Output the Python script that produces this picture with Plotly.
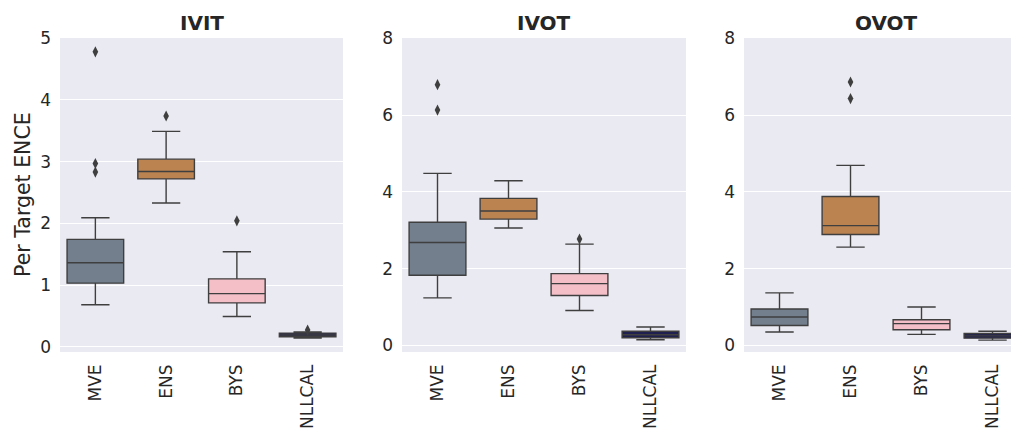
import plotly.graph_objects as go

methods = ["MVE", "ENS", "BYS", "NLLCAL"]
panels = ["IVIT", "IVOT", "OVOT"]
colors = ["#737f8c", "#bb8350", "#f5bfc8", "#202050"]

# IVIT
ivit_lo = [0.68, 2.33, 0.49, 0.14]
ivit_q1 = [1.03, 2.72, 0.71, 0.16]
ivit_med = [1.36, 2.84, 0.86, 0.19]
ivit_q3 = [1.74, 3.04, 1.10, 0.22]
ivit_hi = [2.09, 3.49, 1.54, 0.24]
ivit_out = [[4.78, 2.97, 2.83], [3.74], [2.04], [0.27]]

# IVOT
ivot_lo = [1.24, 3.06, 0.91, 0.15]
ivot_q1 = [1.83, 3.29, 1.30, 0.20]
ivot_med = [2.68, 3.50, 1.61, 0.28]
ivot_q3 = [3.21, 3.83, 1.87, 0.37]
ivot_hi = [4.48, 4.29, 2.64, 0.48]
ivot_out = [[6.79, 6.13], [], [2.77], []]

# OVOT
ovot_lo = [0.35, 2.56, 0.29, 0.14]
ovot_q1 = [0.52, 2.89, 0.41, 0.19]
ovot_med = [0.74, 3.12, 0.57, 0.25]
ovot_q3 = [0.95, 3.88, 0.67, 0.31]
ovot_hi = [1.37, 4.69, 1.00, 0.37]
ovot_out = [[], [6.86, 6.43], [], []]

data = [
    (ivit_lo, ivit_q1, ivit_med, ivit_q3, ivit_hi, ivit_out),
    (ivot_lo, ivot_q1, ivot_med, ivot_q3, ivot_hi, ivot_out),
    (ovot_lo, ovot_q1, ovot_med, ovot_q3, ovot_hi, ovot_out),
]

# page body has an 8px margin, so the figure is offset by 8px
OFF = 8
SW, SH = 1019, 429          # screen size
W, H = SW - OFF, SH - OFF   # figure size
line_col = "#3f3f3f"
text_col = "#262626"
font_family = "DejaVu Sans"


def fx(px):
    return (px - OFF) / W


def fy(py):
    return 1 - (py - OFF) / H


x_domains = [(fx(60), fx(343)), (fx(402), fx(686)), (fx(744), 1.0)]
y_dom = (fy(352), fy(38))
x_ranges = [[-0.5, 3.5], [-0.5, 3.5], [-0.5, 3.373]]
y_ranges = [[-0.086, 5.004], [-0.17, 8.006], [-0.17, 8.006]]
y_ticks = [[0, 1, 2, 3, 4, 5], [0, 2, 4, 6, 8], [0, 2, 4, 6, 8]]
title_cx = [201.5, 544, 886]

fig = go.Figure()

for p, (lo, q1, med, q3, hi, out) in enumerate(data):
    xa = "x" if p == 0 else f"x{p+1}"
    ya = "y" if p == 0 else f"y{p+1}"
    for i, m in enumerate(methods):
        fig.add_trace(go.Box(
            x=[m], lowerfence=[lo[i]], q1=[q1[i]], median=[med[i]],
            q3=[q3[i]], upperfence=[hi[i]], width=0.8,
            fillcolor=colors[i], line=dict(color=line_col, width=1.4),
            whiskerwidth=0.5, boxpoints=False, showlegend=False,
            xaxis=xa, yaxis=ya, hoverinfo="skip",
        ))
        if out[i]:
            fig.add_trace(go.Scatter(
                x=[m] * len(out[i]), y=out[i], mode="markers",
                marker=dict(symbol="diamond-tall", size=8, color=line_col),
                showlegend=False, xaxis=xa, yaxis=ya, hoverinfo="skip",
            ))

layout = dict(
    width=W, height=H,
    margin=dict(l=0, r=0, t=0, b=0, autoexpand=False),
    paper_bgcolor="white",
    plot_bgcolor="#eaeaf2",
    boxmode="overlay",
    font=dict(family=font_family, color=text_col),
)

for p in range(3):
    sx = "" if p == 0 else str(p + 1)
    layout[f"xaxis{sx}"] = dict(
        domain=list(x_domains[p]), anchor=f"y{sx}", type="category",
        categoryorder="array", categoryarray=methods,
        range=x_ranges[p], tickangle=-90, showgrid=False, zeroline=False,
        ticks="", ticklabelstandoff=8, automargin=False,
        tickfont=dict(size=17, color=text_col, family=font_family),
        fixedrange=True,
    )
    layout[f"yaxis{sx}"] = dict(
        domain=list(y_dom), anchor=f"x{sx}", range=y_ranges[p],
        tickvals=y_ticks[p], showgrid=True, gridcolor="white", gridwidth=1,
        zeroline=False, ticks="", ticklabelstandoff=8, automargin=False,
        tickfont=dict(size=17, color=text_col, family=font_family),
    )

fig.update_layout(**layout)

annotations = []
for p, name in enumerate(panels):
    annotations.append(dict(
        text=f"<b>{name}</b>", x=fx(title_cx[p]), y=fy(23),
        xref="paper", yref="paper",
        showarrow=False, xanchor="center", yanchor="middle",
        font=dict(size=20, color=text_col, family=font_family),
    ))
annotations.append(dict(
    text="Per Target ENCE", x=fx(23), y=fy(195), xref="paper", yref="paper",
    showarrow=False, textangle=-90, xanchor="center", yanchor="middle",
    font=dict(size=20.5, color=text_col, family=font_family),
))
fig.update_layout(annotations=annotations)

fig.write_html("out.html")
